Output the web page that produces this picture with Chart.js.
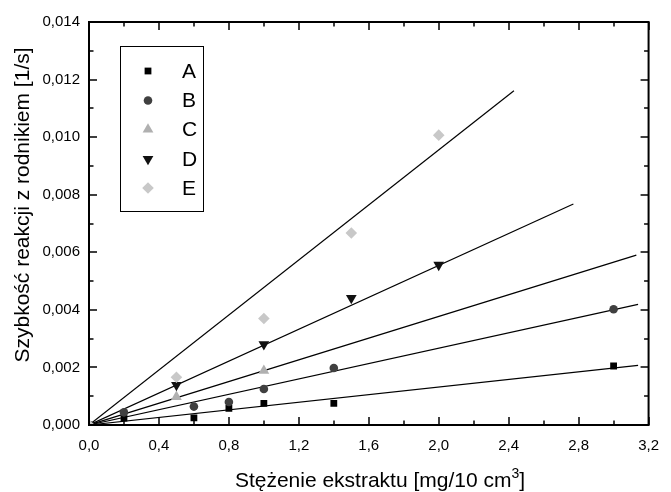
<!DOCTYPE html>
<html>
<head>
<meta charset="utf-8">
<script src="https://cdn.jsdelivr.net/npm/chart.js@4/dist/chart.umd.min.js"></script>
<style>
  html, body { margin: 0; padding: 0; background: #fff; }
  #wrap { width: 671px; height: 492px; }
</style>
</head>
<body>
<div id="wrap"><canvas id="chart" width="671" height="492"></canvas></div>
<script>
// Dane
const seriesNames = ['A', 'B', 'C', 'D', 'E'];

const xA = [0, 0.2, 0.6, 0.8, 1.0, 1.4, 3.0];
const yA = [0, 0.00024, 0.00025, 0.00058, 0.00075, 0.00075, 0.00205];
const xB = [0, 0.2, 0.6, 0.8, 1.0, 1.4, 3.0];
const yB = [0, 0.00044, 0.00064, 0.0008, 0.00125, 0.00198, 0.00402];
const xC = [0, 0.5, 1.0];
const yC = [0, 0.00098, 0.00189];
const xD = [0, 0.5, 1.0, 1.5, 2.0];
const yD = [0, 0.00139, 0.0028, 0.00441, 0.00556];
const xE = [0, 0.5, 1.0, 1.5, 2.0];
const yE = [0, 0.00166, 0.0037, 0.00667, 0.01007];

// Proste dopasowania (od zera do końca linii)
const fitEndX = [3.14, 3.14, 3.13, 2.77, 2.43];
const fitEndY = [0.00207, 0.00419, 0.0059, 0.00768, 0.01161];

const xTicks = [0, 0.4, 0.8, 1.2, 1.6, 2.0, 2.4, 2.8, 3.2];
const yTicks = [0, 0.002, 0.004, 0.006, 0.008, 0.010, 0.012, 0.014];

const xs = [xA, xB, xC, xD, xE];
const ys = [yA, yB, yC, yD, yE];

// Styl markerów
const colors = ['#000000', '#404040', '#b0b0b0', '#111111', '#c8c8c8'];
const styles = ['rect', 'circle', 'triangle', 'triangle', 'rectRot'];
const radii = [4.8, 4.3, 6.2, 6.2, 5.8];
const rotations = [0, 0, 0, 180, 0];

const FONT = '"Liberation Sans", Arial, sans-serif';

const toPts = (xv, yv) => xv.map((x, i) => ({ x: x, y: yv[i] }));

const datasets = [];
seriesNames.forEach((name, i) => {
    datasets.push({
        label: 'fit ' + name,
        data: [{ x: 0, y: 0 }, { x: fitEndX[i], y: fitEndY[i] }],
        showLine: true,
        borderColor: '#000',
        borderWidth: 1.2,
        pointRadius: 0,
        order: 10
    });
});
seriesNames.forEach((name, i) => {
    datasets.push({
        label: name,
        data: toPts(xs[i], ys[i]),
        showLine: false,
        pointStyle: styles[i],
        pointRadius: radii[i],
        pointRotation: rotations[i],
        backgroundColor: colors[i],
        borderColor: colors[i],
        borderWidth: 0,
        order: 5 - i
    });
});

const fmt = (v, d) => v.toFixed(d).replace('.', ',');

// Ramka + ticki skierowane do środka, legenda, tytuły osi
const framePlugin = {
    id: 'frame',
    afterDraw(chart) {
        const ctx = chart.ctx;
        const a = chart.chartArea;
        const sx = chart.scales.x, sy = chart.scales.y;
        ctx.save();
        ctx.strokeStyle = '#000';
        ctx.lineWidth = 1.5;
        for (let i = 0; i <= 16; i++) {
            const px = Math.round(sx.getPixelForValue(i * 0.2));
            const len = i % 2 === 0 ? 8 : 4.5;
            ctx.beginPath();
            ctx.moveTo(px, a.bottom); ctx.lineTo(px, a.bottom - len);
            ctx.moveTo(px, a.top); ctx.lineTo(px, a.top + len);
            ctx.stroke();
        }
        for (let i = 0; i <= 14; i++) {
            const py = Math.round(sy.getPixelForValue(i * 0.001));
            const len = i % 2 === 0 ? 8 : 4.5;
            ctx.beginPath();
            ctx.moveTo(a.left, py); ctx.lineTo(a.left + len, py);
            ctx.moveTo(a.right, py); ctx.lineTo(a.right - len, py);
            ctx.stroke();
        }
        ctx.lineWidth = 2;
        ctx.strokeRect(a.left, a.top, a.right - a.left, a.bottom - a.top);

        // Legenda
        const lx = 120, ly = 46, lw = 83, lh = 165;
        ctx.lineWidth = 1;
        ctx.strokeRect(lx + 0.5, ly + 0.5, lw, lh);
        const rowsY = [71, 100.5, 129.5, 159, 188];
        ctx.font = '21px ' + FONT;
        ctx.textBaseline = 'middle';
        ctx.textAlign = 'left';
        seriesNames.forEach((name, i) => {
            ctx.fillStyle = colors[i];
            ctx.strokeStyle = colors[i];
            Chart.helpers.drawPoint(ctx, {
                pointStyle: styles[i], radius: radii[i], rotation: rotations[i], borderWidth: 0
            }, 148, rowsY[i]);
            ctx.fillStyle = '#000';
            ctx.fillText(name, 182, rowsY[i] + 1);
        });

        // Tytuły osi
        ctx.fillStyle = '#000';
        ctx.textBaseline = 'alphabetic';
        ctx.save();
        ctx.translate(29, 205);
        ctx.rotate(-Math.PI / 2);
        ctx.textAlign = 'center';
        ctx.font = '21px ' + FONT;
        ctx.fillText('Szybkość reakcji z rodnikiem [1/s]', 0, 0);
        ctx.restore();

        const main = 'Stężenie ekstraktu [mg/10 cm';
        const sup = '3';
        const end = ']';
        ctx.font = '21px ' + FONT;
        const w1 = ctx.measureText(main).width;
        const w3 = ctx.measureText(end).width;
        ctx.font = '14px ' + FONT;
        const w2 = ctx.measureText(sup).width;
        const cx = 380;
        const x0 = cx - (w1 + w2 + w3) / 2;
        const base = 487;
        ctx.textAlign = 'left';
        ctx.font = '21px ' + FONT;
        ctx.fillText(main, x0, base);
        ctx.font = '14px ' + FONT;
        ctx.fillText(sup, x0 + w1, base - 9);
        ctx.font = '21px ' + FONT;
        ctx.fillText(end, x0 + w1 + w2, base);
        ctx.restore();
    }
};

new Chart(document.getElementById('chart'), {
    type: 'scatter',
    data: { datasets: datasets },
    options: {
        responsive: false,
        animation: false,
        layout: { padding: { top: 22, right: 11, left: 0, bottom: 0 } },
        plugins: { legend: { display: false }, tooltip: { enabled: false } },
        scales: {
            x: {
                type: 'linear',
                min: 0, max: 3.2,
                afterBuildTicks: s => { s.ticks = xTicks.map(v => ({ value: v })); },
                afterFit: s => { s.height = 67; },
                grid: { display: false, drawTicks: false },
                border: { display: false },
                ticks: {
                    padding: 12,
                    color: '#000',
                    maxRotation: 0,
                    font: { size: 15, family: FONT },
                    callback: v => fmt(v, 1)
                }
            },
            y: {
                type: 'linear',
                min: 0, max: 0.014,
                afterBuildTicks: s => { s.ticks = yTicks.map(v => ({ value: v })); },
                afterFit: s => { s.width = 89; },
                grid: { display: false, drawTicks: false },
                border: { display: false },
                ticks: {
                    padding: 9,
                    color: '#000',
                    font: { size: 15, family: FONT },
                    callback: v => fmt(v, 3)
                }
            }
        }
    },
    plugins: [framePlugin]
});
</script>
</body>
</html>
